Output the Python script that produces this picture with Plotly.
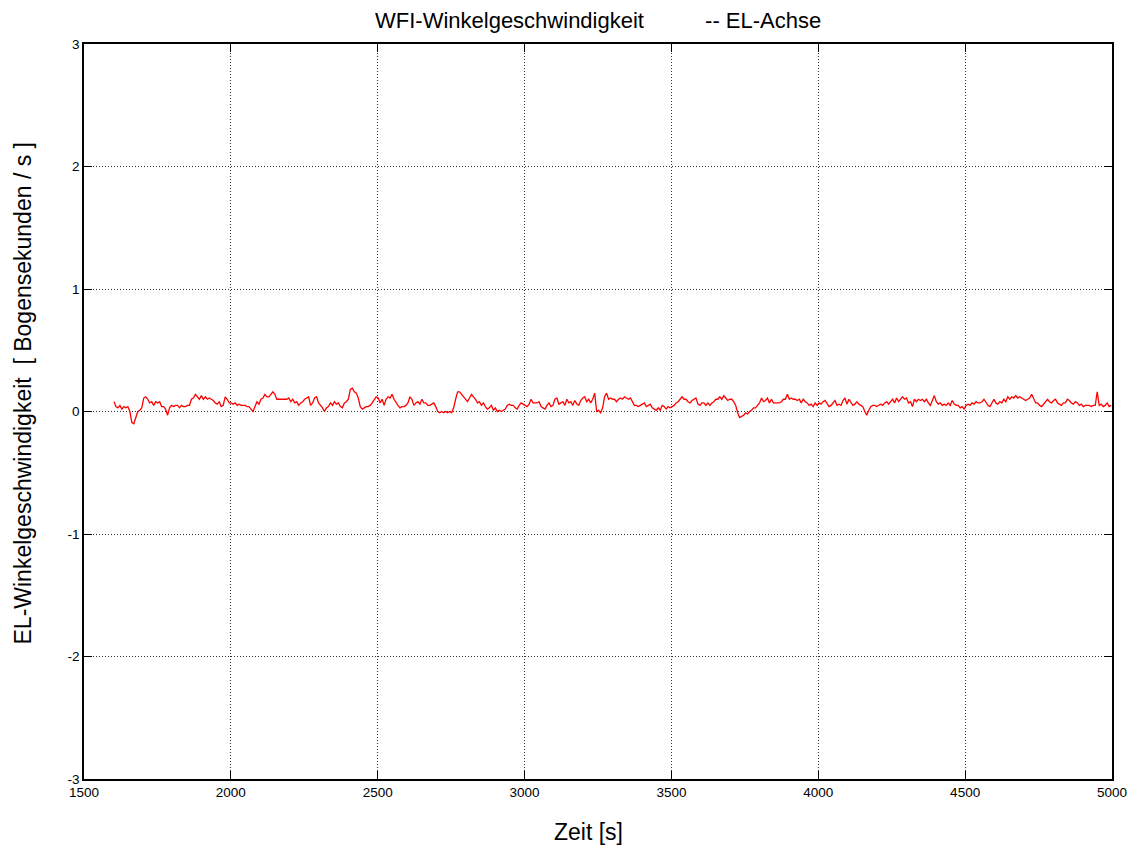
import numpy as np
import plotly.graph_objects as go

# Angular velocity of the EL axis [arcsec/s], sampled evenly in time
el_rate = [
    # 1600 s - 2170 s
    0.08, 0.04, 0.03, 0.05, 0.02, 0.04, 0.03, 0.04, 0.00, -0.09, -0.10, -0.04, 0.00, 0.01, 0.03, 0.11,
    0.12, 0.10, 0.07, 0.08, 0.05, 0.08, 0.07, 0.08, 0.04, 0.04, 0.02, -0.03, 0.03, 0.05, 0.04, 0.05,
    0.05, 0.03, 0.05, 0.04, 0.04, 0.05, 0.05, 0.10, 0.11, 0.14, 0.12, 0.10, 0.13, 0.10, 0.12, 0.10,
    0.11, 0.10, 0.09, 0.07, 0.06, 0.08, 0.04, 0.05, 0.12, 0.10, 0.07, 0.07, 0.06, 0.07, 0.05, 0.06,
    0.05, 0.05, 0.05, 0.04, 0.04, 0.02, 0.00, 0.04, 0.08, 0.06, 0.10, 0.11, 0.14, 0.12, 0.12, 0.14,
    0.16, 0.14, 0.10, 0.10,
    # 2170 s - 2730 s
    0.10, 0.10, 0.10, 0.10, 0.11, 0.08, 0.10, 0.07, 0.08, 0.05, 0.07, 0.08, 0.10, 0.11, 0.12, 0.05,
    0.07, 0.11, 0.12, 0.07, 0.05, 0.03, 0.00, 0.03, 0.04, 0.07, 0.05, 0.08, 0.06, 0.07, 0.04, 0.03,
    0.07, 0.08, 0.10, 0.18, 0.19, 0.16, 0.15, 0.11, 0.04, 0.02, 0.03, 0.04, 0.04, 0.05, 0.07, 0.10,
    0.12, 0.11, 0.07, 0.10, 0.05, 0.10, 0.12, 0.11, 0.14, 0.10, 0.07, 0.05, 0.03, 0.04, 0.04, 0.05,
    0.07, 0.12, 0.10, 0.05, 0.07, 0.08, 0.06, 0.10, 0.07, 0.07, 0.05, 0.05, 0.06, 0.07, 0.04, 0.00,
    -0.01, 0.00, -0.01,
    # 2730 s - 3290 s
    0.00, -0.01, 0.00, -0.01, 0.03, 0.10, 0.16, 0.16, 0.14, 0.12, 0.10, 0.08, 0.11, 0.14, 0.12, 0.10,
    0.07, 0.08, 0.05, 0.07, 0.04, 0.02, 0.03, 0.05, 0.01, 0.03, 0.00, 0.01, 0.00, 0.01, 0.02, 0.05,
    0.06, 0.05, 0.05, 0.03, 0.02, 0.05, 0.07, 0.06, 0.05, 0.04, 0.06, 0.10, 0.07, 0.07, 0.07, 0.08,
    0.04, 0.03, 0.02, 0.05, 0.07, 0.04, 0.05, 0.10, 0.11, 0.06, 0.07, 0.08, 0.05, 0.10, 0.07, 0.08,
    0.05, 0.09, 0.06, 0.05, 0.09, 0.11, 0.12, 0.08, 0.10, 0.07, 0.10, 0.15, 0.00, 0.01, -0.01, 0.03,
    0.12, 0.15, 0.10,
    # 3290 s - 3850 s
    0.11, 0.10, 0.10, 0.08, 0.10, 0.11, 0.10, 0.12, 0.11, 0.10, 0.11, 0.08, 0.05, 0.05, 0.04, 0.05,
    0.06, 0.07, 0.04, 0.05, 0.06, 0.03, 0.02, 0.01, 0.03, 0.01, 0.05, 0.04, 0.02, 0.04, 0.03, 0.04,
    0.05, 0.07, 0.08, 0.10, 0.12, 0.10, 0.10, 0.08, 0.07, 0.09, 0.10, 0.11, 0.06, 0.05, 0.07, 0.07,
    0.05, 0.07, 0.05, 0.07, 0.08, 0.10, 0.10, 0.12, 0.10, 0.13, 0.11, 0.09, 0.10, 0.10, 0.08, 0.05,
    -0.01, -0.05, -0.04, -0.03, -0.01, -0.02, 0.00, 0.01, 0.03, 0.03, 0.05, 0.07, 0.11, 0.08, 0.09,
    0.11, 0.07, 0.10, 0.07,
    # 3850 s - 4410 s
    0.07, 0.07, 0.07, 0.08, 0.10, 0.10, 0.14, 0.10, 0.11, 0.10, 0.10, 0.09, 0.10, 0.07, 0.10, 0.08,
    0.07, 0.05, 0.06, 0.04, 0.07, 0.05, 0.07, 0.06, 0.08, 0.09, 0.06, 0.04, 0.05, 0.07, 0.09, 0.05,
    0.06, 0.05, 0.09, 0.11, 0.06, 0.10, 0.07, 0.05, 0.06, 0.08, 0.06, 0.05, 0.04, 0.00, -0.03, 0.01,
    0.04, 0.05, 0.05, 0.04, 0.05, 0.06, 0.05, 0.07, 0.08, 0.06, 0.08, 0.10, 0.07, 0.11, 0.08, 0.10,
    0.12, 0.10, 0.11, 0.07, 0.08, 0.04, 0.10, 0.08, 0.10, 0.09, 0.10, 0.08, 0.10, 0.07, 0.05, 0.09,
    0.13, 0.08, 0.06,
    # 4410 s - 5000 s
    0.07, 0.05, 0.06, 0.05, 0.07, 0.05, 0.09, 0.06, 0.05, 0.05, 0.03, 0.04, 0.02, 0.05, 0.06, 0.05,
    0.07, 0.06, 0.08, 0.07, 0.07, 0.08, 0.10, 0.07, 0.05, 0.04, 0.07, 0.10, 0.07, 0.06, 0.08, 0.07,
    0.10, 0.08, 0.12, 0.10, 0.12, 0.11, 0.13, 0.11, 0.12, 0.11, 0.10, 0.09, 0.10, 0.11, 0.14, 0.10,
    0.07, 0.07, 0.05, 0.04, 0.06, 0.08, 0.10, 0.08, 0.07, 0.09, 0.10, 0.07, 0.06, 0.05, 0.07, 0.07,
    0.10, 0.09, 0.07, 0.06, 0.08, 0.07, 0.05, 0.06, 0.04, 0.05, 0.05, 0.05, 0.04, 0.05, 0.05, 0.16,
    0.05, 0.06, 0.04, 0.05, 0.07, 0.04, 0.05,
]

# Recording window [s]
t_start = 1602.0
t_end = 4997.0
time_s = np.linspace(t_start, t_end, len(el_rate))

x_ticks = [1500, 2000, 2500, 3000, 3500, 4000, 4500, 5000]
y_ticks = [-3, -2, -1, 0, 1, 2, 3]

title_text = "WFI-Winkelgeschwindigkeit" + "\u00a0" * 10 + "-- EL-Achse"
x_title = "Zeit [s]"
y_title = "EL-Winkelgeschwindigkeit\u00a0\u00a0[ Bogensekunden / s ]"

font_family = "Liberation Sans, Arial, Helvetica, sans-serif"

fig = go.Figure()
fig.add_trace(go.Scatter(
    x=time_s, y=el_rate, mode="lines",
    line=dict(color="#ff0000", width=1.3),
    showlegend=False, hoverinfo="skip",
))

axis_common = dict(
    showline=True, linecolor="black", linewidth=1.5, mirror="ticks",
    ticks="inside", ticklen=8, tickwidth=1, tickcolor="black",
    showgrid=True, gridcolor="#333333", gridwidth=1, griddash="1px,2px",
    zeroline=False,
    tickfont=dict(family=font_family, size=13.5, color="black"),
)

fig.update_xaxes(range=[1500, 5000], tickvals=x_ticks,
                 ticktext=[str(v) for v in x_ticks], **axis_common)
fig.update_yaxes(range=[-3, 3], tickvals=y_ticks,
                 ticktext=[str(v) for v in y_ticks], **axis_common)

fig.update_layout(
    width=1134, height=849,
    margin=dict(l=84, r=22, t=44, b=70, autoexpand=False),
    paper_bgcolor="white", plot_bgcolor="white",
    font=dict(family=font_family, color="black"),
    annotations=[
        dict(text=title_text, xref="paper", yref="paper", x=0.5, y=1,
             yshift=24, xanchor="center", yanchor="middle", showarrow=False,
             font=dict(size=22, family=font_family, color="black")),
        dict(text=x_title, xref="paper", yref="paper", x=0.5, y=0,
             xshift=-10, yshift=-53, xanchor="center", yanchor="middle",
             showarrow=False,
             font=dict(size=23, family=font_family, color="black")),
        dict(text=y_title, xref="paper", yref="paper", x=0, y=0.5,
             xshift=-62, yshift=18, xanchor="center", yanchor="middle",
             showarrow=False, textangle=-90,
             font=dict(size=23, family=font_family, color="black")),
    ],
)

fig.write_html("out.html")
